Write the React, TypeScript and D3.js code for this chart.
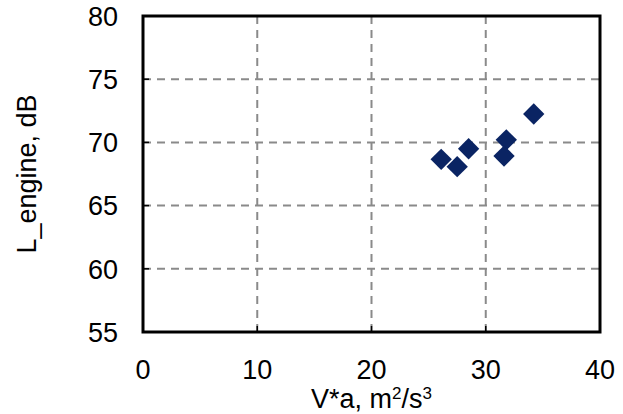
import * as d3 from 'd3';

const vaValues = [26.1, 27.5, 28.5, 31.8, 31.6, 34.2];
const engineLevels = [68.66, 68.08, 69.5, 70.2, 68.92, 72.25];
const xTicks = [0, 10, 20, 30, 40];
const yTicks = [55, 60, 65, 70, 75, 80];

const W = 623;
const H = 414;
const margin = { top: 16, right: 23, bottom: 82, left: 143 };

export default function App() {
  const x = d3.scaleLinear().domain([0, 40]).range([margin.left, W - margin.right]);
  const y = d3.scaleLinear().domain([55, 80]).range([H - margin.bottom, margin.top]);
  const font = 'Liberation Sans, Arial, sans-serif';
  const diamond = d3.symbol().type(d3.symbolDiamond2).size(290)();

  return (
    <svg
      width={W}
      height={H}
      style={{ position: 'absolute', left: 0, top: 0, background: '#fff' }}
      fontFamily={font}
    >
      {/* grid */}
      {xTicks.slice(1, -1).map((t) => (
        <line
          key={'gx' + t}
          x1={x(t)}
          x2={x(t)}
          y1={y(80)}
          y2={y(55)}
          stroke="#8a8a8a"
          strokeWidth={2}
          strokeDasharray="8,6"
        />
      ))}
      {yTicks.slice(1, -1).map((t) => (
        <line
          key={'gy' + t}
          x1={x(0)}
          x2={x(40)}
          y1={y(t)}
          y2={y(t)}
          stroke="#8a8a8a"
          strokeWidth={2}
          strokeDasharray="8,6"
        />
      ))}
      {/* inner ticks */}
      {xTicks.slice(1, -1).map((t) => (
        <line key={'tx' + t} x1={x(t)} x2={x(t)} y1={y(55)} y2={y(55) - 6} stroke="#000" strokeWidth={1.5} />
      ))}
      {yTicks.slice(1, -1).map((t) => (
        <line key={'ty' + t} x1={x(0)} x2={x(0) + 6} y1={y(t)} y2={y(t)} stroke="#000" strokeWidth={1.5} />
      ))}
      <rect
        x={x(0)}
        y={y(80)}
        width={x(40) - x(0)}
        height={y(55) - y(80)}
        fill="none"
        stroke="#000"
        strokeWidth={3}
      />
      {/* tick labels */}
      {yTicks.map((t) => (
        <text key={'ly' + t} x={x(0) - 25} y={y(t)} dy="0.36em" textAnchor="end" fontSize={27} fill="#000">
          {t}
        </text>
      ))}
      {xTicks.map((t) => (
        <text key={'lx' + t} x={x(t)} y={y(55) + 47} textAnchor="middle" fontSize={27} fill="#000">
          {t}
        </text>
      ))}
      {/* axis titles */}
      <text x={(x(0) + x(40)) / 2} y={408} textAnchor="middle" fontSize={27} fill="#000">
        V*a, m<tspan fontSize={17} dy={-9}>2</tspan>
        <tspan dy={9}>/s</tspan>
        <tspan fontSize={17} dy={-9}>3</tspan>
      </text>
      <text
        transform={`translate(36,${(y(55) + y(80)) / 2}) rotate(-90)`}
        textAnchor="middle"
        fontSize={27}
        fill="#000"
      >
        L_engine, dB
      </text>
      {/* points */}
      {vaValues.map((v, i) => (
        <path key={'p' + i} d={diamond ?? ''} transform={`translate(${x(v)},${y(engineLevels[i])})`} fill="#0a2463" />
      ))}
    </svg>
  );
}
